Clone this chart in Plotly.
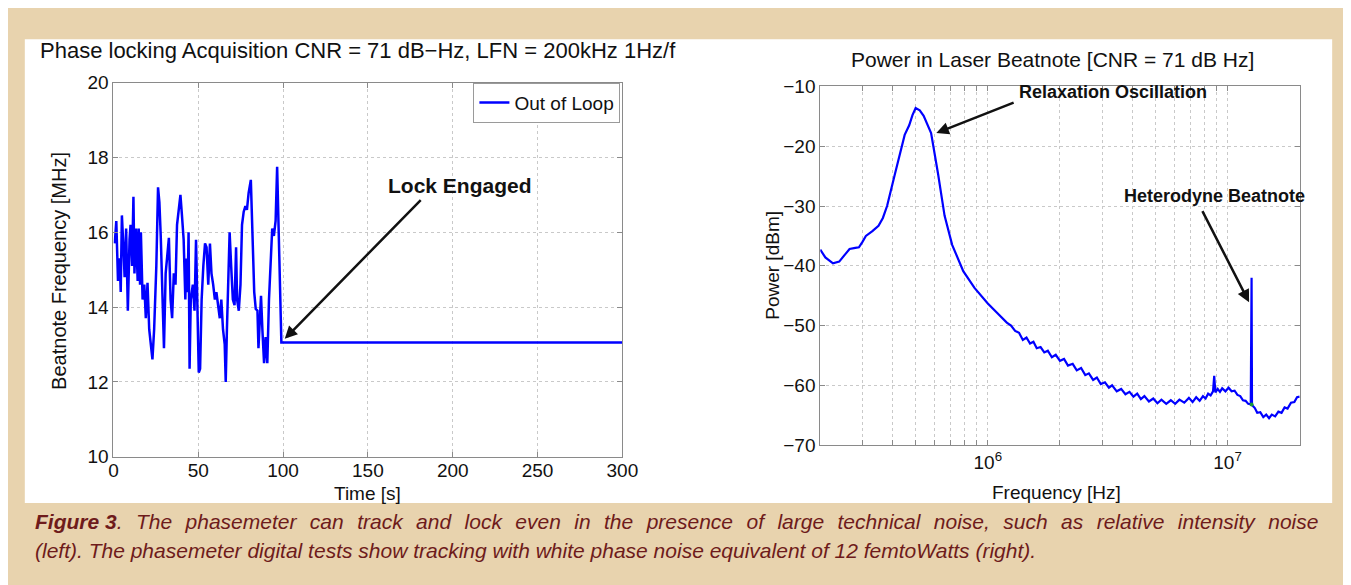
import numpy as np
import plotly.graph_objects as go

# ---- left panel: beatnote frequency vs time ----
t_sec = [0.8, 1.7, 2.7, 3.7, 4.3, 5.0, 6.0, 6.6, 7.5, 8.5, 9.5, 10.1, 11.0, 11.8,
         12.4, 13.3, 14.3, 14.9, 15.7, 16.2, 17.2, 18.2, 19.1, 20.1, 21.1, 22.1,
         23.0, 24.0, 24.6, 25.3, 26.3, 27.1, 27.9, 28.8, 29.8, 30.8, 31.7, 32.7,
         33.7, 34.6, 35.6, 36.6, 37.5, 38.5, 39.5, 40.4, 41.4, 42.4, 42.9, 43.7,
         44.3, 44.9, 45.6, 46.8, 47.8, 48.7, 49.5, 50.3, 51.1, 52.0, 53.0, 54.0,
         54.9, 55.9, 56.9, 57.8, 58.8, 59.8, 60.7, 61.7, 62.7, 63.6, 64.6, 65.6,
         66.2, 66.9, 67.5, 68.5, 69.4, 70.4, 71.4, 72.3, 72.9, 73.9, 74.9, 75.8,
         76.8, 77.8, 78.7, 79.7, 81.0, 82.0, 83.0, 83.9, 84.9, 85.5, 86.3, 87.0,
         87.8, 88.8, 89.7, 90.7, 91.7, 92.6, 93.6, 94.6, 95.6, 96.5, 97.5, 98.5,
         99.0, 300.0]
f_mhz = [15.7, 16.3, 14.7, 15.3, 14.4, 16.45, 15.5, 14.8, 16.1, 13.9, 15.8, 16.2,
         15.1, 16.95, 14.9, 16.1, 14.7, 16.1, 14.6, 16.0, 14.2, 14.6, 13.7, 14.65,
         13.4, 13.0, 12.6, 13.4, 14.2, 15.1, 17.2, 16.8, 15.9, 14.2, 12.9, 14.9,
         15.4, 15.85, 14.2, 13.7, 14.9, 14.6, 16.2, 16.6, 17.0, 16.45, 15.8, 14.2,
         15.3, 14.4, 16.0, 12.35, 14.2, 14.6, 13.9, 15.8, 14.05, 12.25, 12.35, 14.2,
         15.1, 15.7, 15.6, 14.6, 15.7, 14.9, 14.6, 14.2, 14.4, 14.05, 13.7, 14.2,
         13.4, 13.0, 12.0, 13.4, 14.6, 16.0, 15.1, 14.2, 14.05, 15.6, 14.2, 13.9,
         14.6, 16.2, 16.55, 16.7, 16.6, 17.05, 17.4, 15.8, 14.4, 13.95, 13.9, 12.9,
         13.9, 14.3, 13.4, 12.5, 13.2, 12.5, 14.2, 15.1, 16.1, 15.9, 16.3, 17.75,
         15.8, 13.8, 13.05, 13.05]

# ---- right panel: power spectrum of the laser beatnote ----
freq_hz = [2.0e5, 2.1e5, 2.26e5, 2.4e5, 2.55e5, 2.65e5, 2.8e5, 2.9e5, 3.0e5, 3.1e5,
           3.3e5, 3.5e5, 3.65e5, 3.8e5, 4.1e5, 4.3e5, 4.5e5, 4.7e5, 4.85e5, 5.0e5,
           5.2e5, 5.4e5, 5.8e5, 6.2e5, 6.6e5, 7.1e5, 7.9e5, 8.8e5, 1.0e6, 1.1e6,
           1.2e6, 1.25e6, 1.3e6, 1.35e6, 1.4e6, 1.45e6, 1.5e6, 1.55e6, 1.6e6, 1.66e6,
           1.72e6, 1.78e6, 1.85e6, 1.92e6, 2.0e6, 2.08e6, 2.16e6, 2.26e6, 2.35e6,
           2.45e6, 2.55e6, 2.64e6, 2.75e6, 2.85e6, 2.96e6, 3.08e6, 3.2e6, 3.3e6,
           3.45e6, 3.6e6, 3.75e6, 3.9e6, 4.05e6, 4.2e6, 4.35e6, 4.5e6, 4.7e6, 4.9e6,
           5.1e6, 5.3e6, 5.55e6, 5.8e6, 6.05e6, 6.3e6, 6.6e6, 6.9e6, 7.15e6, 7.4e6,
           7.65e6, 7.9e6, 8.1e6, 8.3e6, 8.5e6, 8.7e6, 8.8e6, 8.9e6, 9.1e6, 9.3e6,
           9.5e6, 9.8e6, 1.01e7, 1.04e7, 1.07e7, 1.1e7, 1.13e7, 1.16e7, 1.19e7,
           1.22e7, 1.25e7, 1.26e7, 1.265e7, 1.3e7, 1.33e7, 1.37e7, 1.41e7, 1.45e7,
           1.49e7, 1.53e7, 1.58e7, 1.63e7, 1.68e7, 1.73e7, 1.78e7, 1.84e7, 1.9e7,
           1.95e7, 2.0e7]
power_dbm = [-37.3, -38.6, -39.6, -39.3, -38.0, -37.2, -37.0, -36.9, -36.0, -35.0,
             -34.2, -33.3, -32.0, -30.0, -24.6, -21.0, -18.1, -16.5, -14.8, -13.6,
             -14.0, -14.9, -17.8, -24.6, -31.6, -36.5, -40.9, -43.7, -46.3, -48.0,
             -49.5, -50.0, -50.9, -51.2, -52.4, -52.0, -53.0, -52.7, -53.8, -53.6,
             -54.5, -54.2, -55.3, -54.9, -55.9, -55.6, -56.7, -56.4, -57.5,
             -57.1, -58.3, -58.0, -59.1, -58.7, -59.8, -59.5, -60.4, -60.0,
             -61.0, -60.6, -61.5, -61.1, -61.9, -61.4, -62.3, -61.8, -62.7, -62.2,
             -63.0, -62.4, -63.1, -62.5, -63.1, -62.4, -62.9, -62.1, -62.8, -62.0,
             -62.6, -61.8, -62.2, -61.4, -61.7, -61.0, -58.4, -61.2, -60.6, -61.1,
             -60.5, -61.0, -60.4, -61.0, -60.9, -61.6, -61.8, -62.5, -62.6,
             -63.1, -63.2, -42.0, -63.3, -63.8, -64.6, -64.5, -65.3, -64.9,
             -65.5, -64.9, -65.2, -64.4, -64.6, -63.7, -63.9, -62.9, -62.8,
             -62.0, -61.9]

W, H = 1351, 585
BEIGE = "#E8D3AE"
FONT = "Liberation Sans, Arial, sans-serif"
GRID = "#c9c9c9"


def px(x):
    return x / W


def py(y):
    return 1 - y / H


fig = go.Figure()
fig.add_trace(go.Scatter(x=t_sec, y=f_mhz, mode="lines", name="Out of Loop",
                         line=dict(color="#0000ff", width=2.5), xaxis="x", yaxis="y"))
fig.add_trace(go.Scatter(x=freq_hz, y=power_dbm, mode="lines", showlegend=False,
                         line=dict(color="#0000ff", width=2.2), xaxis="x2", yaxis="y2"))
fig.add_trace(go.Scatter(x=[1.26e7], y=[-63.2], mode="markers", showlegend=False,
                         marker=dict(color="#1a9a3a", size=4), xaxis="x2", yaxis="y2"))

axis_common = dict(showline=True, linecolor="#8a8a8a", linewidth=1, mirror="allticks",
                   ticks="inside", ticklen=5, tickcolor="#8a8a8a",
                   showgrid=True, gridcolor=GRID, griddash="dot", gridwidth=1,
                   zeroline=False, tickfont=dict(family=FONT, size=19, color="#111"))

minor_vals = [2e5, 3e5, 4e5, 5e5, 6e5, 7e5, 8e5, 9e5, 1e6, 2e6, 3e6, 4e6, 5e6,
              6e6, 7e6, 8e6, 9e6, 1e7, 2e7]
minor_text = ["10<sup>6</sup>" if v == 1e6 else "10<sup>7</sup>" if v == 1e7 else ""
              for v in minor_vals]

fig.update_layout(
    width=W, height=H,
    margin=dict(l=0, r=0, t=0, b=0),
    paper_bgcolor=BEIGE, plot_bgcolor="white",
    xaxis=dict(domain=[px(102), px(619)], range=[0, 300], dtick=50, anchor="y",
               ticklabelstandoff=-3, **axis_common),
    yaxis=dict(domain=[py(455), py(67)], range=[10, 20], dtick=2, anchor="x",
               **axis_common),
    xaxis2=dict(domain=[px(820), px(1307)], type="log", range=[np.log10(2e5), np.log10(2e7)],
                tickvals=minor_vals, ticktext=minor_text, anchor="y2", **axis_common),
    yaxis2=dict(domain=[py(443), py(71)], range=[-70, -10], dtick=10, anchor="x2",
                tickformat="d", **axis_common),
    legend=dict(x=px(617), y=py(67), xanchor="right", yanchor="top",
                bgcolor="white", bordercolor="#9a9a9a", borderwidth=1, itemwidth=30,
                font=dict(family=FONT, size=19, color="#111")),
    showlegend=True,
)

# white panel behind the two plots
fig.add_shape(type="rect", xref="paper", yref="paper", layer="below",
              x0=px(12), x1=px(1340), y0=py(503), y1=py(22),
              fillcolor="white", line=dict(width=0))

labels = [
    (350, 34, "Phase locking Acquisition CNR = 71 dB\u2212Hz, LFN = 200kHz 1Hz/f", 0, 22),
    (1056, 43, "Power in Laser Beatnote [CNR = 71 dB Hz]", 0, 21),
    (360, 493, "Time [s]", 0, 19),
    (1060, 492, "Frequency [Hz]", 0, 19),
    (46, 262, "Beatnote Frequency [MHz]", -90, 20),
    (772, 257, "Power [dBm]", -90, 19),
]
for x, y, s, ang, size in labels:
    fig.add_annotation(x=px(x), y=py(y), xref="paper", yref="paper", text=s,
                       xanchor="center", yanchor="middle",
                       showarrow=False, textangle=ang,
                       font=dict(family=FONT, size=size, color="#111"))

arrow = dict(showarrow=True, arrowhead=2, arrowsize=1, arrowwidth=2.5,
             arrowcolor="#111", text="")
# Lock Engaged
fig.add_annotation(x=101, y=13.15, ax=182, ay=16.9, xref="x", yref="y",
                   axref="x", ayref="y", **arrow)
fig.add_annotation(x=204, y=17.25, xref="x", yref="y", text="<b>Lock Engaged</b>",
                   showarrow=False, font=dict(family=FONT, size=21, color="#111"))
# Relaxation Oscillation
fig.add_annotation(x=np.log10(6.1e5), y=-17.8, ax=np.log10(1.3e6), ay=-12.6,
                   xref="x2", yref="y2", axref="x2", ayref="y2", **arrow)
fig.add_annotation(x=np.log10(1.33e6), y=-11.0, xref="x2", yref="y2", xanchor="left",
                   text="<b>Relaxation Oscillation</b>", showarrow=False,
                   font=dict(family=FONT, size=18, color="#111"))
# Heterodyne Beatnote
fig.add_annotation(x=np.log10(1.23e7), y=-46.1, ax=np.log10(7.8e6), ay=-30.6,
                   xref="x2", yref="y2", axref="x2", ayref="y2", **arrow)
fig.add_annotation(x=np.log10(8.8e6), y=-28.4, xref="x2", yref="y2",
                   text="<b>Heterodyne Beatnote</b>", showarrow=False,
                   font=dict(family=FONT, size=18, color="#111"))

# caption (first line justified to full width)
cap = dict(family=FONT, size=21, color="#6e1b1b")
gap = "\u00a0\u200a"
line1 = ("The phasemeter can track and lock even in the presence of large technical "
         "noise, such as relative intensity noise").replace(" ", " " + gap)
fig.add_annotation(x=px(20), y=py(522), xref="paper", yref="paper", xanchor="left",
                   yanchor="middle", showarrow=False, font=cap,
                   text="<b><i>Figure 3</i></b><i>." + " " + gap + line1 + "</i>")
fig.add_annotation(x=px(20), y=py(552), xref="paper", yref="paper", xanchor="left",
                   yanchor="middle", showarrow=False, font=cap,
                   text="<i>(left). The phasemeter digital tests show tracking with white phase noise "
                        "equivalent of 12 femtoWatts (right).</i>")

fig.write_html("out.html")
